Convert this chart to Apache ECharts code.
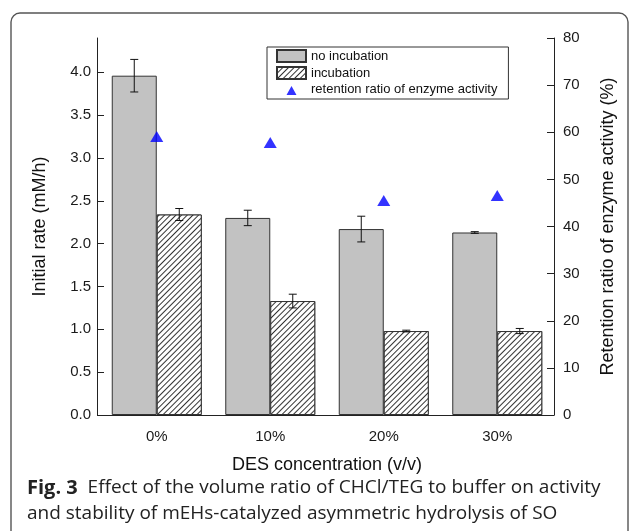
<!DOCTYPE html>
<html>
<head>
<meta charset="utf-8">
<script src="https://cdn.jsdelivr.net/npm/echarts@6/dist/echarts.min.js"></script>
<style>html,body{margin:0;padding:0;background:#fff;}#c{width:630px;height:531px;}</style>
</head>
<body>
<div id="c"></div>
<script>
const categories = ['0%', '10%', '20%', '30%'];
const noIncubation = [3.96, 2.30, 2.17, 2.13];
const noIncubationErr = [0.19, 0.09, 0.15, 0.01];
const incubation = [2.34, 1.33, 0.98, 0.98];
const incubationErr = [0.07, 0.08, 0.01, 0.03];
const retention = [59.1, 57.8, 45.5, 46.6];
const leftTicks = [0, 0.5, 1.0, 1.5, 2.0, 2.5, 3.0, 3.5, 4.0];

const chart = echarts.init(document.getElementById('c'), null, {renderer: 'canvas'});
const BAR_W = 45;
const axisFont = {fontFamily: 'Liberation Sans, Arial', fontSize: 15, color: '#1a1a1a'};

function errorSeries(name, vals, errs, side) {
  return {
    type: 'custom',
    name: name + '_err',
    yAxisIndex: 0,
    z: 5,
    silent: true,
    data: vals.map((v, i) => [i, v, errs[i]]),
    renderItem: function (params, api) {
      const i = api.value(0), v = api.value(1), e = api.value(2);
      const off = side * BAR_W / 2;
      const top = api.coord([i, v + e]);
      const bot = api.coord([i, v - e]);
      const x = top[0] + off;
      const cap = 4;
      return {
        type: 'group',
        children: [
          {type: 'line', shape: {x1: x, y1: top[1], x2: x, y2: bot[1]}, style: {stroke: '#111', lineWidth: 1}},
          {type: 'line', shape: {x1: x - cap, y1: top[1], x2: x + cap, y2: top[1]}, style: {stroke: '#111', lineWidth: 1}},
          {type: 'line', shape: {x1: x - cap, y1: bot[1], x2: x + cap, y2: bot[1]}, style: {stroke: '#111', lineWidth: 1}}
        ]
      };
    }
  };
}

const hatch = {
  symbol: 'rect',
  symbolSize: 1,
  color: '#333',
  backgroundColor: '#fff',
  dashArrayX: [1, 0],
  dashArrayY: [1, 3],
  rotation: -Math.PI / 4
};

const option = {
  animation: false,
  backgroundColor: '#fff',
  grid: {left: 100, right: 76, top: 38, bottom: 116},
  legend: {
    orient: 'vertical',
    left: 267,
    top: 47,
    itemWidth: 29,
    itemHeight: 12,
    itemGap: 3,
    padding: [2, 11, 3, 9],
    borderColor: '#333',
    borderWidth: 1,
    borderRadius: 0,
    backgroundColor: '#fff',
    textStyle: {fontFamily: 'Liberation Sans, Arial', fontSize: 13, color: '#111'},
    data: [
      {name: 'no incubation', icon: 'rect'},
      {name: 'incubation', icon: 'rect'},
      {name: 'retention ratio of enzyme activity',
       icon: 'path://M0,0L0.01,0M29,12L28.99,12M9.5,11.5L14.5,2.5L19.5,11.5Z',
       itemStyle: {color: '#0000ff'}}
    ]
  },
  xAxis: {
    type: 'category',
    data: categories,
    axisTick: {show: false},
    axisLine: {lineStyle: {color: '#222', width: 1}},
    axisLabel: Object.assign({margin: 14}, axisFont),
    name: 'DES concentration (v/v)',
    nameLocation: 'middle',
    nameGap: 41,
    nameTextStyle: {fontFamily: 'Liberation Sans, Arial', fontSize: 18, color: '#111'}
  },
  yAxis: [
    {
      type: 'value',
      min: 0,
      max: 4.4,
      offset: 3,
      position: 'left',
      splitLine: {show: false},
      axisLine: {show: true, lineStyle: {color: '#222', width: 1}},
      axisTick: {show: true, inside: true, length: 7, customValues: leftTicks, lineStyle: {color: '#222'}},
      axisLabel: Object.assign({margin: 6, customValues: leftTicks, formatter: v => v.toFixed(1)}, axisFont),
      name: 'Initial rate (mM/h)',
      nameLocation: 'middle',
      nameGap: 48,
      nameTextStyle: {fontFamily: 'Liberation Sans, Arial', fontSize: 18, color: '#111'}
    },
    {
      type: 'value',
      min: 0,
      max: 80,
      interval: 10,
      position: 'right',
      splitLine: {show: false},
      axisLine: {show: true, lineStyle: {color: '#222', width: 1}},
      axisTick: {show: true, inside: true, length: 7, lineStyle: {color: '#222'}},
      axisLabel: Object.assign({margin: 9}, axisFont),
      name: 'Retention ratio of enzyme activity (%)',
      nameLocation: 'middle',
      nameGap: 45,
      nameRotate: 90,
      nameTextStyle: {fontFamily: 'Liberation Sans, Arial', fontSize: 18, color: '#111'}
    }
  ],
  series: [
    {
      type: 'bar',
      name: 'no incubation',
      data: noIncubation,
      barWidth: BAR_W,
      barGap: '0%',
      itemStyle: {color: '#c2c2c2', borderColor: '#333', borderWidth: 1}
    },
    {
      type: 'bar',
      name: 'incubation',
      data: incubation,
      barWidth: BAR_W,
      barGap: '0%',
      itemStyle: {color: '#fff', borderColor: '#333', borderWidth: 1, decal: hatch}
    },
    errorSeries('no incubation', noIncubation, noIncubationErr, -1),
    errorSeries('incubation', incubation, incubationErr, 1),
    {
      type: 'scatter',
      name: 'retention ratio of enzyme activity',
      yAxisIndex: 1,
      data: retention,
      symbol: 'triangle',
      symbolSize: [13, 11],
      z: 6,
      itemStyle: {color: '#0000ff'}
    }
  ],
  graphic: [
    {
      type: 'rect',
      shape: {x: 11, y: 13, width: 617, height: 530, r: 9},
      style: {fill: 'none', stroke: '#555', lineWidth: 1.4},
      z: 100,
      silent: true
    },
    {
      type: 'text',
      left: 27,
      top: 475,
      style: {
        text: '{b|Fig. 3}  Effect of the volume ratio of CHCl/TEG to buffer on activity\nand stability of mEHs-catalyzed asymmetric hydrolysis of SO',
        font: '19px "Open Sans"',
        fill: '#222',
        lineHeight: 26,
        rich: {
          b: {font: 'bold 20px "Open Sans"', fill: '#222'}
        }
      },
      z: 100
    }
  ]
};
chart.setOption(option);
</script>
</body>
</html>
